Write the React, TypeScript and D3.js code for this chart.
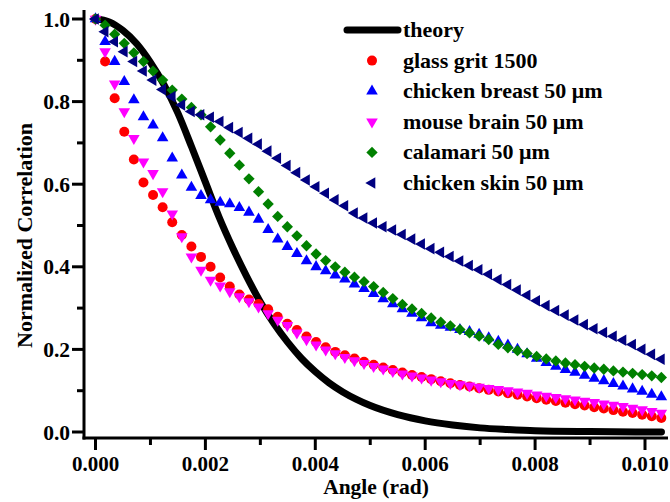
import React from 'react';
import * as d3 from 'd3';

// scattering angle, rad (0.01 deg steps)
const ANGLE = [
  0, 0.0001745, 0.0003491, 0.0005236, 0.0006981, 0.0008727, 0.0010472, 0.0012217, 0.0013963, 0.0015708,
  0.0017453, 0.0019199, 0.0020944, 0.0022689, 0.0024435, 0.0026180, 0.0027925, 0.0029671, 0.0031416, 0.0033161,
  0.0034907, 0.0036652, 0.0038397, 0.0040143, 0.0041888, 0.0043633, 0.0045379, 0.0047124, 0.0048869, 0.0050615,
  0.0052360, 0.0054105, 0.0055851, 0.0057596, 0.0059341, 0.0061087, 0.0062832, 0.0064577, 0.0066323, 0.0068068,
  0.0069813, 0.0071558, 0.0073304, 0.0075049, 0.0076794, 0.0078540, 0.0080285, 0.0082030, 0.0083776, 0.0085521,
  0.0087266, 0.0089012, 0.0090757, 0.0092502, 0.0094248, 0.0095993, 0.0097738, 0.0099484, 0.0101229, 0.0102974,
];

const GLASS_GRIT = [
  1.0, 0.897, 0.808, 0.727, 0.66, 0.604, 0.574, 0.544, 0.508, 0.477,
  0.449, 0.424, 0.4, 0.374, 0.352, 0.333, 0.321, 0.31, 0.297, 0.279,
  0.262, 0.247, 0.231, 0.218, 0.205, 0.194, 0.186, 0.178, 0.17, 0.163,
  0.156, 0.15, 0.144, 0.138, 0.133, 0.128, 0.123, 0.118, 0.114, 0.11,
  0.106, 0.102, 0.098, 0.094, 0.09, 0.086, 0.082, 0.078, 0.075, 0.071,
  0.067, 0.064, 0.06, 0.057, 0.053, 0.049, 0.046, 0.042, 0.038, 0.034,
];

const CHICKEN_BREAST = [
  1.0, 0.945, 0.897, 0.848, 0.804, 0.763, 0.743, 0.712, 0.663, 0.622,
  0.592, 0.572, 0.562, 0.556, 0.552, 0.543, 0.532, 0.515, 0.49, 0.467,
  0.449, 0.432, 0.414, 0.4, 0.39, 0.38, 0.37, 0.358, 0.347, 0.335,
  0.322, 0.31, 0.298, 0.287, 0.276, 0.264, 0.258, 0.253, 0.248, 0.243,
  0.236, 0.228, 0.219, 0.21, 0.2, 0.189, 0.178, 0.168, 0.159, 0.151,
  0.144, 0.137, 0.13, 0.124, 0.117, 0.111, 0.104, 0.098, 0.091, 0.085,
];

const MOUSE_BRAIN = [
  1.0, 0.921, 0.843, 0.776, 0.711, 0.654, 0.626, 0.582, 0.528, 0.473,
  0.424, 0.392, 0.368, 0.354, 0.34, 0.328, 0.316, 0.303, 0.287, 0.271,
  0.258, 0.24, 0.224, 0.211, 0.199, 0.19, 0.181, 0.173, 0.166, 0.159,
  0.153, 0.147, 0.141, 0.136, 0.131, 0.126, 0.122, 0.118, 0.115, 0.112,
  0.109, 0.106, 0.103, 0.1, 0.097, 0.094, 0.09, 0.087, 0.084, 0.081,
  0.078, 0.075, 0.072, 0.068, 0.065, 0.062, 0.058, 0.054, 0.05, 0.046,
];

const CALAMARI = [
  1.0, 0.985, 0.963, 0.941, 0.918, 0.897, 0.874, 0.852, 0.828, 0.806,
  0.786, 0.768, 0.739, 0.707, 0.675, 0.646, 0.613, 0.582, 0.552, 0.522,
  0.497, 0.475, 0.451, 0.431, 0.415, 0.4, 0.387, 0.375, 0.364, 0.352,
  0.338, 0.323, 0.309, 0.298, 0.287, 0.276, 0.266, 0.257, 0.248, 0.24,
  0.232, 0.224, 0.212, 0.204, 0.197, 0.19, 0.183, 0.177, 0.172, 0.167,
  0.163, 0.159, 0.155, 0.152, 0.148, 0.145, 0.142, 0.139, 0.136, 0.132,
];

const CHICKEN_SKIN = [
  1.0, 0.969, 0.945, 0.921, 0.897, 0.874, 0.852, 0.829, 0.812, 0.792,
  0.776, 0.768, 0.762, 0.752, 0.737, 0.725, 0.711, 0.697, 0.68, 0.663,
  0.645, 0.628, 0.61, 0.594, 0.578, 0.562, 0.548, 0.53, 0.518, 0.506,
  0.497, 0.489, 0.478, 0.467, 0.455, 0.444, 0.435, 0.425, 0.414, 0.403,
  0.393, 0.382, 0.369, 0.357, 0.344, 0.331, 0.318, 0.306, 0.294, 0.283,
  0.271, 0.26, 0.25, 0.241, 0.232, 0.222, 0.212, 0.2, 0.188, 0.176,
];

const THEORY_ANGLE = [
  0, 0.00025, 0.0005, 0.00075, 0.001, 0.00125, 0.0015, 0.00175, 0.002, 0.00225,
  0.0025, 0.00275, 0.003, 0.00325, 0.0035, 0.00375, 0.004, 0.00425, 0.0045, 0.00475,
  0.005, 0.0055, 0.006, 0.0065, 0.007, 0.0075, 0.008, 0.009, 0.0103,
];
const THEORY = [
  1.0, 0.993, 0.972, 0.94, 0.895, 0.84, 0.772, 0.69, 0.605, 0.52,
  0.445, 0.377, 0.315, 0.262, 0.217, 0.178, 0.146, 0.119, 0.097, 0.079,
  0.064, 0.042, 0.027, 0.017, 0.01, 0.006, 0.003, 0.001, 0.0,
];

const X_TICKS = [0, 0.002, 0.004, 0.006, 0.008, 0.01];
const X_MINOR = [0.001, 0.003, 0.005, 0.007, 0.009];
const Y_TICKS = [0, 0.2, 0.4, 0.6, 0.8, 1.0];
const Y_MINOR = [0.1, 0.3, 0.5, 0.7, 0.9];

const FONT = '"Liberation Serif", "Times New Roman", serif';

const series = [
  { name: 'glass grit 1500', values: GLASS_GRIT, color: '#ff0000', shape: 'circle' },
  { name: 'chicken breast 50 \u03bcm', values: CHICKEN_BREAST, color: '#0000ff', shape: 'up' },
  { name: 'mouse brain 50 \u03bcm', values: MOUSE_BRAIN, color: '#ff00ff', shape: 'down' },
  { name: 'calamari 50 \u03bcm', values: CALAMARI, color: '#008000', shape: 'diamond' },
  { name: 'chicken skin 50 \u03bcm', values: CHICKEN_SKIN, color: '#000080', shape: 'left' },
];

const triPath = d3.symbol(d3.symbolTriangle, 58)();
const squarePath = d3.symbol(d3.symbolSquare, 64)();

function Marker({ shape, color, cx, cy }) {
  if (shape === 'circle') return <circle cx={cx} cy={cy} r={5} fill={color} />;
  if (shape === 'diamond') return <path d={squarePath} fill={color} transform={`translate(${cx},${cy}) rotate(45)`} />;
  const rot = shape === 'up' ? 0 : shape === 'down' ? 180 : -90;
  return <path d={triPath} fill={color} transform={`translate(${cx},${cy}) rotate(${rot})`} />;
}

export default function App() {
  const width = 670, height = 502;
  const x = d3.scaleLinear().domain([0, 0.01]).range([95.5, 645]);
  const y = d3.scaleLinear().domain([0, 1]).range([432, 19]);

  const theoryLine = d3.line<number>()
    .x((d, i) => x(THEORY_ANGLE[i]))
    .y((d) => y(d))
    .curve(d3.curveMonotoneX);

  const axisX = 84, axisY = 438;
  const fmtX = d3.format('.3f');
  const fmtY = d3.format('.1f');

  const legendX = 372, legendTextX = 403, legendTop = 30, legendStep = 30.6;

  return (
    <svg width={width} height={height} style={{ position: 'absolute', left: 0, top: 0, background: '#fff' }}
      fontFamily={FONT} fontWeight="bold">
      {/* theory curve */}
      <path d={theoryLine(THEORY)} fill="none" stroke="#000" strokeWidth={7} strokeLinecap="round" />

      {series.map((s) => (
        <g key={s.name}>
          {s.values.map((v, i) => (
            <Marker key={i} shape={s.shape} color={s.color} cx={x(ANGLE[i])} cy={y(v)} />
          ))}
        </g>
      ))}

      {/* axes */}
      <line x1={axisX} x2={axisX} y1={10} y2={axisY + 1.5} stroke="#000" strokeWidth={3} />
      <line x1={axisX - 1.5} x2={668} y1={axisY} y2={axisY} stroke="#000" strokeWidth={3} />

      {X_TICKS.map((t) => (
        <g key={t}>
          <line x1={x(t)} x2={x(t)} y1={axisY} y2={axisY + 12} stroke="#000" strokeWidth={3} />
          <text x={x(t)} y={470.5} textAnchor="middle" fontSize={21}>{fmtX(t)}</text>
        </g>
      ))}
      {X_MINOR.map((t) => (
        <line key={t} x1={x(t)} x2={x(t)} y1={axisY} y2={axisY + 7} stroke="#000" strokeWidth={3} />
      ))}
      {Y_TICKS.map((t) => (
        <g key={t}>
          <line x1={axisX - 12} x2={axisX} y1={y(t)} y2={y(t)} stroke="#000" strokeWidth={3} />
          <text x={70} y={y(t) + 7.5} textAnchor="end" fontSize={21.5}>{fmtY(t)}</text>
        </g>
      ))}
      {Y_MINOR.map((t) => (
        <line key={t} x1={axisX - 7} x2={axisX} y1={y(t)} y2={y(t)} stroke="#000" strokeWidth={3} />
      ))}

      <text x={376} y={494} textAnchor="middle" fontSize={21.5}>Angle (rad)</text>
      <text transform="translate(32,348) rotate(-90)" textAnchor="start" fontSize={22}>Normalized Correlation</text>

      {/* legend */}
      <line x1={347} x2={398} y1={legendTop} y2={legendTop} stroke="#000" strokeWidth={7} strokeLinecap="round" />
      <text x={legendTextX} y={legendTop + 7} fontSize={22}>theory</text>
      {series.map((s, i) => {
        const cy = legendTop + legendStep * (i + 1);
        return (
          <g key={s.name}>
            <Marker shape={s.shape} color={s.color} cx={legendX} cy={cy} />
            <text x={legendTextX} y={cy + 7} fontSize={22}>{s.name}</text>
          </g>
        );
      })}
    </svg>
  );
}
